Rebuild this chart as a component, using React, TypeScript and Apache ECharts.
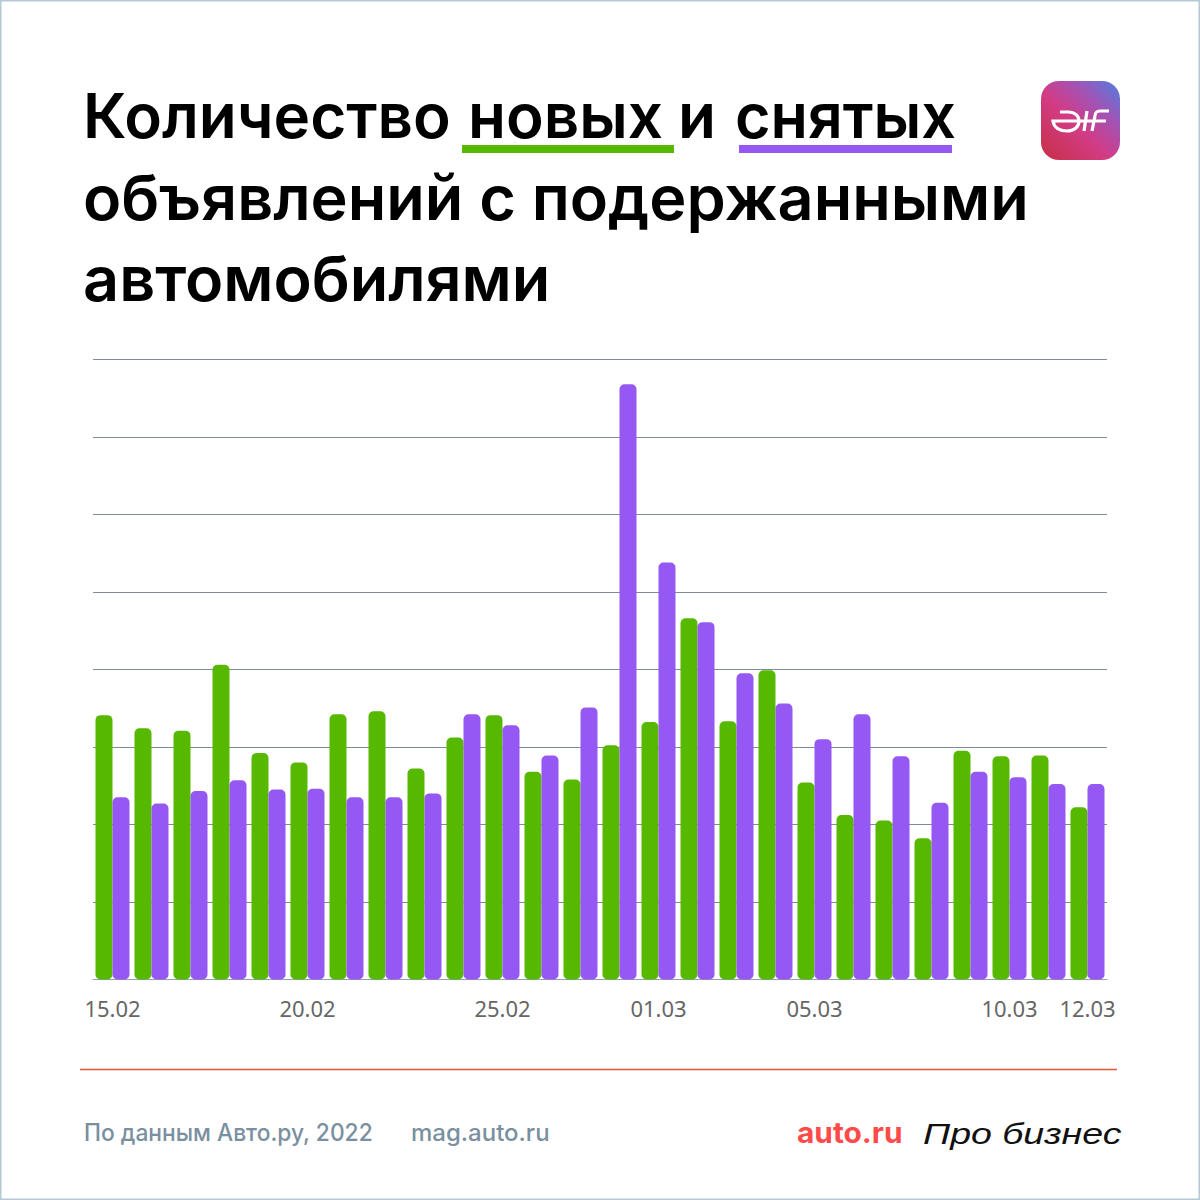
import React, { useEffect, useRef } from "react";
import * as echarts from "echarts";

const categories = ["15.02","16.02","17.02","18.02","19.02","20.02","21.02","22.02","23.02","24.02","25.02","26.02","27.02","28.02","01.03","02.03","03.03","04.03","05.03","06.03","07.03","08.03","09.03","10.03","11.03","12.03"];
const shownLabels = ["15.02","20.02","25.02","01.03","05.03","10.03","12.03"];
const newAds = [341,324,321,406,292,280,342,346,272,312,341,268,258,302,332,466,333,399,254,212,205,182,295,288,289,222];
const removedAds = [235,227,243,257,245,246,235,235,240,342,328,289,351,768,538,461,395,356,310,342,288,228,268,261,252,252];

const GREEN = "#57b800";
const PURPLE = "#9558f2";
const TITLE_FONT = "Inter";

const d = "M1060 112 H1068 C1075 112 1079 116 1079 121 C1079 127 1074 131 1067 131 C1060 131 1054 128 1053 121 H1106 M1087 111 L1084 131 M1095 116 L1092 131 M1109 111 H1100 C1097 111 1095 113 1095 116";
echarts.graphic.registerShape("efLogo", echarts.graphic.extendPath(d, {}));

const titleText = (text: string, x: number, y: number, scaleX = 1) => ({
  type: "text", x, y, scaleX,
  style: { text, fill: "#000", font: `600 62px ${TITLE_FONT}`, textVerticalAlign: "middle" },
});

export default function App() {
  const ref = useRef<HTMLDivElement>(null);
  useEffect(() => {
    document.body.style.margin = "0";
    const chart = echarts.init(ref.current!, null, { renderer: "svg" });
    chart.setOption({
      animation: false,
      backgroundColor: "#fff",
      grid: { left: 93, top: 359.4, width: 1014, height: 620 },
      xAxis: {
        type: "category",
        data: categories,
        axisLine: { show: true, lineStyle: { color: "#8f9fb5", width: 1 } },
        axisTick: { show: false },
        axisLabel: {
          interval: 0,
          margin: 18,
          color: "#666",
          fontSize: 22,
          fontFamily: "Noto Sans",
          formatter: (v: string) => (shownLabels.includes(v) ? v : ""),
        },
      },
      yAxis: {
        type: "value", min: 0, max: 800, interval: 100,
        axisLabel: { show: false },
        axisLine: { show: false },
        axisTick: { show: false },
        splitLine: { lineStyle: { color: "#7d8c9b", width: 1 } },
      },
      series: [
        { name: "Новые", type: "bar", data: newAds, barWidth: 17, barGap: 0, itemStyle: { color: GREEN, borderRadius: 5 } },
        { name: "Снятые", type: "bar", data: removedAds, barWidth: 17, barGap: 0, itemStyle: { color: PURPLE, borderRadius: 5 } },
      ],
      graphic: [
        { type: "rect", shape: { x: 0.5, y: 0.5, width: 1199, height: 1199 }, style: { fill: "none", stroke: "#b5c8d6", lineWidth: 2 } },
        titleText("Количество", 83, 115),
        titleText("новых", 468, 115),
        titleText("и", 678, 115),
        titleText("снятых", 735, 115, 0.985),
        titleText("объявлений с подержанными", 83, 197, 1.015),
        titleText("автомобилями", 83, 278, 1.015),
        { type: "rect", shape: { x: 462, y: 145, width: 212, height: 8 }, style: { fill: GREEN } },
        { type: "rect", shape: { x: 739, y: 145, width: 213, height: 8 }, style: { fill: PURPLE } },
        {
          type: "rect",
          shape: { x: 1041, y: 81, width: 79, height: 79, r: 18 },
          style: {
            fill: new echarts.graphic.LinearGradient(1, 0, 0, 1, [
              { offset: 0, color: "#4f80e2" },
              { offset: 0.3, color: "#a352b4" },
              { offset: 0.55, color: "#d23c86" },
              { offset: 1, color: "#c72f45" },
            ]),
          },
        },
        { type: "efLogo", x: 0, y: 0, style: { fill: "none", stroke: "#fff", lineWidth: 3.2 } },
        { type: "rect", shape: { x: 80, y: 1068.7, width: 1037, height: 1.6 }, style: { fill: "#e2553a" } },
        { type: "text", x: 84, y: 1132, scaleX: 0.95, style: { text: "По данным Авто.ру, 2022", fill: "#7a8fa0", font: "500 24px Inter", textVerticalAlign: "middle" } },
        { type: "text", x: 411, y: 1132, style: { text: "mag.auto.ru", fill: "#7a8fa0", font: "500 24px Inter", textVerticalAlign: "middle" } },
        { type: "text", x: 797, y: 1132, scaleX: 1.03, style: { text: "auto.ru", fill: "#ff4a4a", font: "700 29px Inter", textVerticalAlign: "middle" } },
        { type: "text", x: 923, y: 1133, scaleX: 1.25, style: { text: "Про бизнес", fill: "#111", font: "italic 30px 'Liberation Sans'", textVerticalAlign: "middle" } },
      ],
    });
    return () => chart.dispose();
  }, []);
  return <div ref={ref} style={{ width: 1200, height: 1200, display: "block" }} />;
}
